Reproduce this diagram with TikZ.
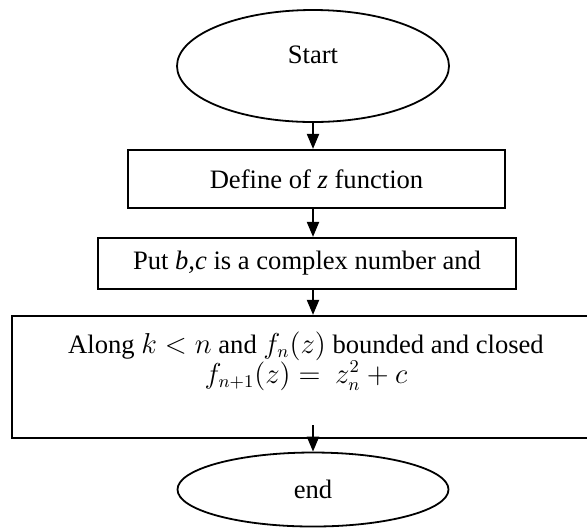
\documentclass[tikz,border=0pt]{standalone}
\usepackage{fontspec}
\setmainfont{Liberation Serif}
\usetikzlibrary{shapes.geometric,arrows.meta}
\newcommand\tightlines{\lineskiplimit=-20pt\relax\lineskip=0pt\relax}
\begin{document}
\begin{tikzpicture}[x=0.5pt,y=-0.5pt,
  font=\fontsize{13.3}{16}\selectfont,
  oval/.style={ellipse, draw, line width=0.9pt, inner sep=0pt},
  stepbox/.style={rectangle, draw, line width=1.1pt, inner sep=0pt},
  txt/.style={inner sep=0pt, anchor=base},
  arr/.style={-{Triangle[width=6pt,length=7.5pt]}, line width=1pt}]
\useasboundingbox (0,0) rectangle (587,527);

% start terminal
\node[oval, minimum width=136pt, minimum height=56pt] (start) at (313,66) {};
\node[txt] (starttxt) at (313,63) {Start};

% process steps
\node[stepbox, minimum width=188.5pt, minimum height=29pt] (def) at (316.5,179)
  {Define of \textit{z} function};
\node[stepbox, minimum width=209pt, minimum height=25.5pt] (put) at (307,263.5)
  {Put \textit{b,c} is a complex number and};
\node[stepbox, minimum width=294pt, minimum height=61pt] (along) at (306,377) {};
% two-line text; the base anchor sits on the last line
\node[txt, align=center, font=\fontsize{13.3}{15}\selectfont\tightlines]
  (alongtxt) at (306,383)
  {Along $k < n$ and $f_n(z)$ bounded and closed\\
   $f_{n+1}(z) =\ z_n^2 + c$};
\coordinate (a4) at (313,425);

% end terminal
\node[oval, minimum width=135.5pt, minimum height=37pt] (end) at (313,489.5) {end};

% connectors
\draw[arr] (start.south) -- (start.south |- def.north);
\draw[arr] (def.south -| start) -- (put.north -| start);
\draw[arr] (put.south -| start) -- (along.north -| start);
\draw[arr] (a4) -- (end.north);
\end{tikzpicture}
\end{document}
